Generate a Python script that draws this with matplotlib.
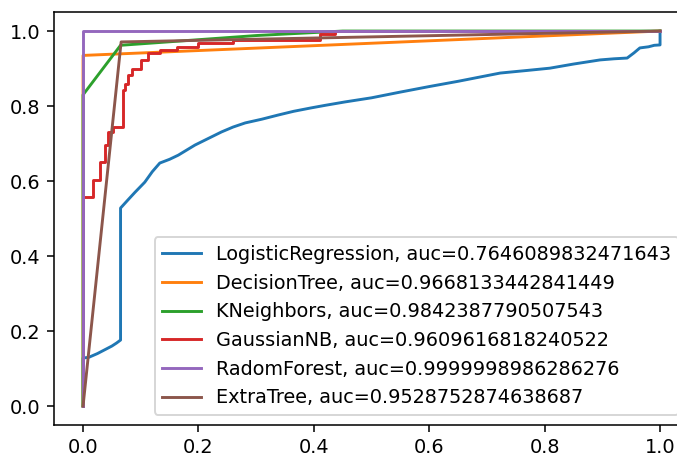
import matplotlib
matplotlib.use("Agg")
import matplotlib.pyplot as plt

# ROC curve points
lr_fpr = [0.0, 0.0, 0.01, 0.025, 0.04, 0.05, 0.058, 0.065, 0.065, 0.078, 0.09, 0.107,
          0.12, 0.133, 0.15, 0.165, 0.18, 0.194, 0.215, 0.24, 0.26, 0.281, 0.31,
          0.338, 0.365, 0.395, 0.42, 0.454, 0.5, 0.549, 0.6, 0.65, 0.723, 0.77,
          0.809, 0.85, 0.896, 0.92, 0.943, 0.955, 0.965, 0.98, 0.99, 1.0, 1.0]
lr_tpr = [0.0, 0.128, 0.13, 0.14, 0.152, 0.16, 0.168, 0.176, 0.528, 0.55, 0.57, 0.597,
          0.625, 0.648, 0.658, 0.669, 0.683, 0.696, 0.712, 0.731, 0.744, 0.755, 0.765,
          0.776, 0.786, 0.795, 0.802, 0.811, 0.822, 0.837, 0.852, 0.866, 0.888, 0.895,
          0.901, 0.912, 0.923, 0.926, 0.928, 0.942, 0.955, 0.958, 0.962, 0.963, 1.0]

dt_fpr = [0.0, 0.0, 1.0]
dt_tpr = [0.0, 0.935, 1.0]

kn_fpr = [0.0, 0.0, 0.065, 0.3, 0.45, 1.0]
kn_tpr = [0.0, 0.83, 0.962, 0.988, 1.0, 1.0]

nb_fpr = [0.0, 0.0, 0.017, 0.017, 0.03, 0.03, 0.038, 0.038, 0.043, 0.043, 0.052, 0.052,
          0.069, 0.069, 0.073, 0.073, 0.078, 0.078, 0.085, 0.085, 0.1, 0.1, 0.113,
          0.113, 0.133, 0.133, 0.163, 0.163, 0.2, 0.2, 0.26, 0.26, 0.41, 0.41,
          0.437, 0.437, 1.0]
nb_tpr = [0.0, 0.557, 0.557, 0.603, 0.603, 0.65, 0.65, 0.696, 0.696, 0.73, 0.73, 0.745,
          0.745, 0.843, 0.843, 0.86, 0.86, 0.883, 0.883, 0.9, 0.9, 0.923, 0.923,
          0.941, 0.941, 0.95, 0.95, 0.958, 0.958, 0.968, 0.968, 0.975, 0.975, 0.992,
          0.992, 1.0, 1.0]

rf_fpr = [0.0, 0.0, 1.0]
rf_tpr = [0.0, 1.0, 1.0]

et_fpr = [0.0, 0.066, 1.0]
et_tpr = [0.0, 0.971, 1.0]

labels = ["LogisticRegression, auc=0.7646089832471643",
          "DecisionTree, auc=0.9668133442841449",
          "KNeighbors, auc=0.9842387790507543",
          "GaussianNB, auc=0.9609616818240522",
          "RadomForest, auc=0.9999998986286276",
          "ExtraTree, auc=0.9528752874638687"]

curves = [(lr_fpr, lr_tpr), (dt_fpr, dt_tpr), (kn_fpr, kn_tpr),
          (nb_fpr, nb_tpr), (rf_fpr, rf_tpr), (et_fpr, et_tpr)]

dpi = 139
fig = plt.figure(figsize=(677 / dpi, 458 / dpi), dpi=dpi)
# the right spine is cropped off in the reference, so the axes run past the edge
ax = fig.add_axes([54.2 / 677, 1 - 424.8 / 458, 634.7 / 677, 412.5 / 458])

for (fpr, tpr), lab in zip(curves, labels):
    ax.plot(fpr, tpr, label=lab)

ax.legend(loc="lower right")

fig.savefig("out.png", dpi=dpi)
